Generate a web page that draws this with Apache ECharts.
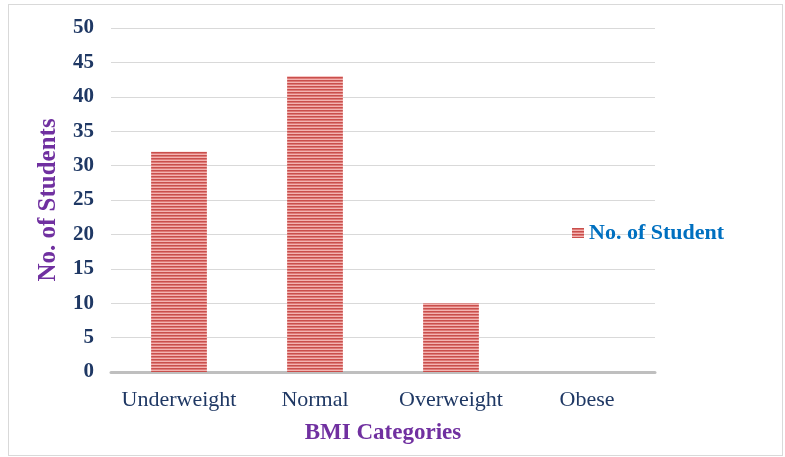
<!DOCTYPE html>
<html>
<head>
<meta charset="utf-8">
<script src="https://cdn.jsdelivr.net/npm/echarts@6/dist/echarts.min.js"></script>
<style>
html, body { margin: 0; padding: 0; background: #fff; }
#chart { position: absolute; left: 8px; top: 4px; width: 775px; height: 452px; border: 1px solid #d9d9d9; box-sizing: border-box; }
</style>
</head>
<body>
<div id="chart"></div>
<script>
var categories = ['Underweight', 'Normal', 'Overweight', 'Obese'];
var students = [32, 43, 10, 0];
var seriesName = 'No. of Student';

// striped fill like the original bars
function stripes() {
	var c = document.createElement('canvas');
	c.width = 4;
	c.height = 3;
	var ctx = c.getContext('2d');
	ctx.fillStyle = '#f3b3b1';
	ctx.fillRect(0, 0, 4, 3);
	ctx.fillStyle = '#c94f4c';
	ctx.fillRect(0, 0, 4, 1);
	ctx.fillStyle = '#de7a77';
	ctx.fillRect(0, 1, 4, 1);
	return c;
}

var serif = '"Liberation Serif", "DejaVu Serif", serif';

var option = {
	animation: false,
	grid: { left: 102, right: 127, top: 23, bottom: 83 },
	legend: {
		data: [seriesName],
		orient: 'vertical',
		left: 558,
		top: 212,
		icon: 'rect',
		itemWidth: 12,
		itemHeight: 10,
		itemGap: 4,
		textStyle: { color: '#0070c0', fontFamily: serif, fontWeight: 'bold', fontSize: 22 }
	},
	xAxis: {
		type: 'category',
		data: categories,
		name: 'BMI Categories',
		nameLocation: 'middle',
		nameGap: 50,
		nameTextStyle: { color: '#7030a0', fontFamily: serif, fontWeight: 'bold', fontSize: 23 },
		axisLine: { lineStyle: { color: '#bfbfbf', width: 3 } },
		axisTick: { show: false },
		axisLabel: { color: '#1f3864', fontFamily: serif, fontSize: 22, margin: 17, interval: 0 }
	},
	yAxis: {
		type: 'value',
		min: 0,
		max: 50,
		interval: 5,
		name: 'No. of Students',
		nameLocation: 'middle',
		nameGap: 50,
		nameTextStyle: { color: '#7030a0', fontFamily: serif, fontWeight: 'bold', fontSize: 25 },
		axisLine: { show: false },
		axisTick: { show: false },
		splitLine: { lineStyle: { color: '#d9d9d9', width: 1 } },
		axisLabel: { color: '#1f3864', fontFamily: serif, fontWeight: 'bold', fontSize: 21, margin: 17 }
	},
	series: [{
		name: seriesName,
		type: 'bar',
		data: students,
		barWidth: '41%',
		itemStyle: {
			color: { image: stripes(), repeat: 'repeat' },
			borderWidth: 0
		}
	}]
};

var myChart = echarts.init(document.getElementById('chart'));
myChart.setOption(option);
</script>
</body>
</html>
